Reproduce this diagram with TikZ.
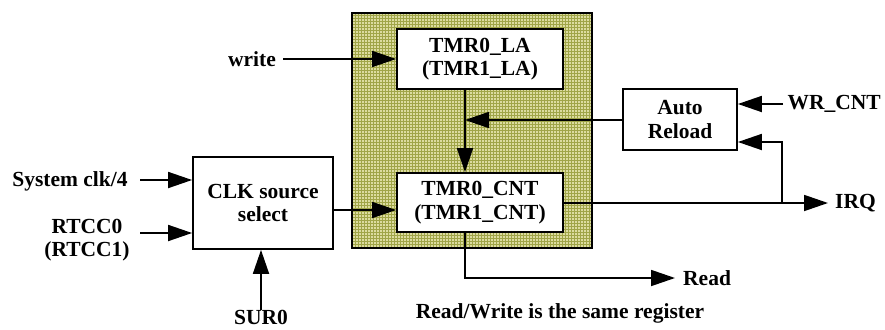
\documentclass[tikz,border=0pt]{standalone}
\usepackage{fontspec}
\setmainfont{Liberation Serif}
\usetikzlibrary{arrows.meta}
\definecolor{olivefill}{RGB}{220,220,160}
\definecolor{olivegrid}{RGB}{160,165,72}
\begin{document}
\begin{tikzpicture}[x=1pt,y=-1pt,
  lbl/.style={font=\fontsize{21.5}{23.5}\selectfont\bfseries, inner sep=0pt, align=center},
  blk/.style={draw, line width=1.8pt, fill=white, inner sep=0pt},
  arr/.style={line width=1.8pt, -{Triangle[length=24pt,width=16pt]}}]
\useasboundingbox (0,0) rectangle (885,329);
% shaded region
\fill[olivefill] (352,13) rectangle (592,248);
\begin{scope}
\clip (352,13) rectangle (592,248);
\foreach \i in {0,3,...,240} {
  \draw[olivegrid, line width=1pt] (352+\i,13) -- (352+\i,248);
}
\foreach \j in {0,3,...,236} {
  \draw[olivegrid, line width=1pt] (352,13+\j) -- (592,13+\j);
}
\end{scope}
\draw[line width=1.8pt] (352,13) rectangle (592,248);
% blocks
\node[blk, minimum width=166pt, minimum height=60pt] (LA) at (480,59) {};
\node[lbl] at (LA) {TMR0\_LA\\(TMR1\_LA)};
\node[blk, minimum width=166pt, minimum height=59pt] (CNT) at (480,202.5) {};
\node[lbl] at (CNT) {TMR0\_CNT\\(TMR1\_CNT)};
\node[blk, minimum width=140pt, minimum height=92pt] (CLK) at (263,203) {};
\node[lbl] at (CLK) {CLK source\\select};
\node[blk, minimum width=114pt, minimum height=61pt] (AR) at (680,119.5) {};
\node[lbl] at (AR) {Auto\\Reload};
% labels
\node[lbl, anchor=east] (write) at (276,59) {write};
\node[lbl] (sys) at (70,181) {System clk/4};
\node[lbl] (rtcc) at (87,240) {RTCC0\\(RTCC1)};
\node[lbl, anchor=north] (sur) at (261,310) {SUR0};
\node[lbl, anchor=west] (read) at (683,278) {Read};
\node[lbl, anchor=west] (irq) at (835,203) {IRQ};
\node[lbl, anchor=east] (wr) at (881,104) {WR\_CNT};
\node[lbl] (note) at (560,313) {Read/Write is the same register};
% coordinates
\coordinate (wS) at (283,59);
\coordinate (sS) at (140,180);
\coordinate (rS) at (140,233);
\coordinate (uS) at (261,310);
\coordinate (jn) at (465,120);
\coordinate (br) at (782,203);
\coordinate (brT) at (782,142);
\coordinate (irqT) at (828,203);
\coordinate (wrS) at (783,104);
\coordinate (rdC) at (465,278);
\coordinate (rdT) at (675,278);
% connectors
\draw[arr] (wS) -- (wS -| LA.west);
\draw[arr] (LA.south -| jn) -- (CNT.north -| jn);
\draw[arr] (AR.west |- jn) -- (jn);
\draw[arr] (sS) -- (sS -| CLK.west);
\draw[arr] (rS) -- (rS -| CLK.west);
\draw[arr] (uS) -- (uS |- CLK.south);
\draw[arr] (CLK.east |- 0,210) -- (CNT.west |- 0,210);
\draw[arr] (CNT.east |- irqT) -- (irqT);
\draw[arr] (br) -- (brT) -- (brT -| AR.east);
\draw[arr] (wrS) -- (wrS -| AR.east);
\draw[arr] (CNT.south -| rdC) -- (rdC) -- (rdT);
\end{tikzpicture}
\end{document}
